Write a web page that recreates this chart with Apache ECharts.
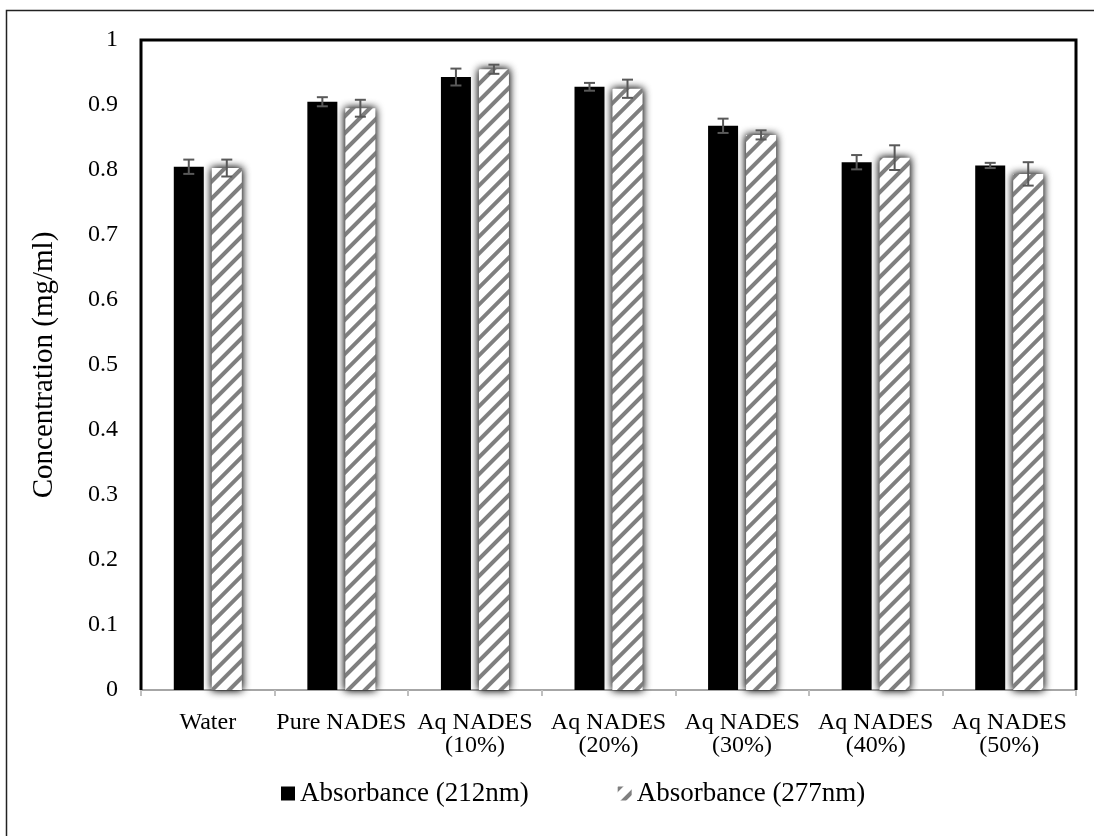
<!DOCTYPE html>
<html>
<head>
<meta charset="utf-8">
<script src="https://cdn.jsdelivr.net/npm/echarts@6/dist/echarts.min.js"></script>
<style>
html,body{margin:0;padding:0;background:#fff;}
#chart{width:1094px;height:836px;}
</style>
</head>
<body>
<div id="chart"></div>
<script>
const categories = ['Water', 'Pure NADES', 'Aq NADES\n(10%)', 'Aq NADES\n(20%)', 'Aq NADES\n(30%)', 'Aq NADES\n(40%)', 'Aq NADES\n(50%)'];
const abs212 = [0.805, 0.905, 0.943, 0.928, 0.868, 0.812, 0.807];
const err212 = [0.011, 0.007, 0.013, 0.006, 0.011, 0.011, 0.004];
const abs277 = [0.803, 0.895, 0.955, 0.925, 0.854, 0.819, 0.794];
const err277 = [0.013, 0.013, 0.007, 0.014, 0.007, 0.019, 0.018];
const seriesNames = ['Absorbance (212nm)', 'Absorbance (277nm)'];
const yAxisTitle = 'Concentration (mg/ml)';

const FONT = '"Liberation Serif", "Times New Roman", serif';
const BAR_W = 30, BAR_GAP = 8;
const OFFSET = BAR_W / 2 + BAR_GAP / 2;
const G = {left: 141, top: 40, right: 1076, bottom: 690};

function errSeries(vals, errs, side) {
  return {
    type: 'custom',
    z: 10,
    silent: true,
    data: vals.map((v, i) => [i, v, errs[i]]),
    encode: {x: 0, y: 1},
    renderItem: function (params, api) {
      const x = api.value(0), v = api.value(1), e = api.value(2);
      const hi = api.coord([x, v + e]);
      const lo = api.coord([x, v - e]);
      const cx = hi[0] + side * OFFSET;
      const half = 5.5;
      const st = {stroke: '#595959', lineWidth: 2};
      return {
        type: 'group',
        children: [
          {type: 'line', shape: {x1: cx, y1: hi[1], x2: cx, y2: lo[1]}, style: st},
          {type: 'line', shape: {x1: cx - half, y1: hi[1], x2: cx + half, y2: hi[1]}, style: st},
          {type: 'line', shape: {x1: cx - half, y1: lo[1], x2: cx + half, y2: lo[1]}, style: st}
        ]
      };
    }
  };
}

const chart = echarts.init(document.getElementById('chart'), null, {renderer: 'canvas'});
chart.setOption({
  animation: false,
  backgroundColor: '#fff',
  textStyle: {fontFamily: FONT, color: '#000'},
  grid: {left: G.left, top: G.top, right: 1094 - G.right, bottom: 836 - G.bottom, containLabel: false},
  legend: {
    data: seriesNames,
    left: 276,
    top: 775,
    icon: 'rect',
    itemWidth: 14,
    itemHeight: 14,
    itemGap: 89,
    textStyle: {fontFamily: FONT, fontSize: 27, color: '#000'}
  },
  xAxis: {
    type: 'category',
    data: categories,
    axisLine: {show: true, lineStyle: {color: '#a6a6a6', width: 2}},
    axisTick: {show: true, length: 6, lineStyle: {color: '#bfbfbf', width: 2}},
    axisLabel: {color: '#000', fontFamily: FONT, fontSize: 24, lineHeight: 23, margin: 21, interval: 0}
  },
  yAxis: {
    type: 'value',
    min: 0,
    max: 1,
    interval: 0.1,
    name: yAxisTitle,
    nameLocation: 'middle',
    nameGap: 82,
    nameTextStyle: {fontFamily: FONT, fontSize: 29, color: '#000'},
    axisLine: {show: false},
    axisTick: {show: false},
    splitLine: {show: false},
    axisLabel: {color: '#000', fontFamily: FONT, fontSize: 24, margin: 23}
  },
  graphic: [
    {type: 'rect', shape: {x: 6.5, y: 10.5, width: 1100, height: 840}, style: {fill: null, stroke: '#222', lineWidth: 1.5}, z: 0},
    {type: 'polyline', shape: {points: [[G.left, G.bottom], [G.left, G.top], [G.right, G.top], [G.right, G.bottom]]}, style: {fill: null, stroke: '#000', lineWidth: 3}, z: 5}
  ],
  series: [
    {
      name: seriesNames[0],
      type: 'bar',
      data: abs212,
      barWidth: BAR_W,
      barGap: (BAR_GAP / BAR_W * 100) + '%',
      itemStyle: {color: '#000'}
    },
    {
      name: seriesNames[1],
      type: 'bar',
      data: abs277,
      barWidth: BAR_W,
      barGap: (BAR_GAP / BAR_W * 100) + '%',
      itemStyle: {
        color: '#fff',
        shadowBlur: 8,
        shadowColor: 'rgba(0,0,0,0.45)',
        decal: {
          symbol: 'rect',
          symbolSize: 1,
          dashArrayX: [1, 0],
          dashArrayY: [4, 8],
          rotation: -Math.PI / 4,
          color: '#7f7f7f',
          backgroundColor: '#fff'
        }
      }
    },
    errSeries(abs212, err212, -1),
    errSeries(abs277, err277, 1)
  ]
});
</script>
</body>
</html>
